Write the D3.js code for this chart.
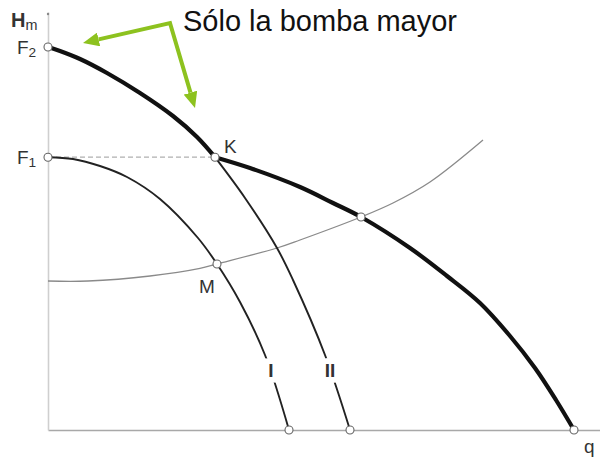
<!DOCTYPE html>
<html>
<head>
<meta charset="utf-8">
<script src="https://cdn.jsdelivr.net/npm/d3@7"></script>
<style>
  body { margin: 0; background: #fff; }
  svg { display: block; font-family: "Liberation Sans", Arial, sans-serif; }
</style>
</head>
<body>
<div id="chart"></div>
<script>
// pump curves, [q, Hm]
const curveI = [[0, 68.2], [5, 67.75], [10.4, 66], [15.8, 63.25], [22.4, 57.75], [30, 48], [33.8, 41.5],
    [38.4, 32], [43.4, 18.75], [48.2, 0]];
const curveII = [[0, 95.75], [2.4, 94.75], [6.4, 92.75], [11.8, 89.25], [18.4, 84.25], [25, 78.5], [29.8, 73.25],
    [33.4, 68.2], [39.4, 58], [45.8, 45.5], [49, 37.5], [55.4, 18.75], [60.4, 0]];
const combined = [[33.4, 68.2], [40.4, 65.5], [50.4, 60.75], [57, 56.75], [62.6, 53.25], [72.4, 45.5],
    [79.8, 38.5], [86.4, 31.75], [92.4, 23.5], [97.4, 15.5], [101.6, 7.5], [105.2, 0]];
const systemCurve = [[0, 37.25], [8, 37.25], [20.4, 38.5], [30.4, 40.4], [33.8, 41.5], [45.8, 45.5],
    [50.4, 47.5], [62.6, 53.25], [69, 56.75], [76.4, 62], [87, 72.5]];

const qK = 33.4;
const pointNames = ["F2", "F1", "K", "M", "P", "I0", "II0", "C0"];
const pointQ = [0, 0, 33.4, 33.8, 62.6, 48.2, 60.4, 105.2];
const pointH = [95.75, 68.2, 68.2, 41.5, 53.25, 0, 0, 0];

const curveLabels = ["I", "II"];
const curveLabelQ = [44.6, 56.4];
const curveLabelH = [13.25, 13.25];

const title = "Sólo la bomba mayor";
// arrows: from vertex to the two tips
const arrowVertex = [24.4, 101.75];
const arrowTips = [[7, 96.75], [29.4, 80.5]];

const width = 600, height = 457;

const svg = d3.select("#chart").append("svg")
    .attr("width", width)
    .attr("height", height);

const x = d3.scaleLinear().domain([0, 110.4]).range([48, 600]);
const y = d3.scaleLinear().domain([0, 104.5]).range([430, 12]);

// axes, no ticks
const xAxis = svg.append("g")
    .attr("transform", "translate(0," + y(0) + ")")
    .call(d3.axisBottom(x).tickValues([]).tickSizeOuter(0));
xAxis.select(".domain").attr("stroke", "#a8a8a8").attr("stroke-width", 1.6);

const yAxis = svg.append("g")
    .attr("transform", "translate(" + x(0) + ",0)")
    .call(d3.axisLeft(y).tickValues([]).tickSizeOuter(0));
yAxis.select(".domain").attr("stroke", "#cfcfcf").attr("stroke-width", 1.6);
svg.append("circle").attr("cx", x(0)).attr("cy", y(104)).attr("r", 1.2).attr("fill", "#888");

const line = d3.line()
    .x(d => x(d[0]))
    .y(d => y(d[1]))
    .curve(d3.curveCatmullRom.alpha(0.5));

// system curve
svg.append("path")
    .attr("d", line(systemCurve))
    .attr("fill", "none")
    .attr("stroke", "#8a8a8a")
    .attr("stroke-width", 1.3);

// dashed F1 - K
svg.append("line")
    .attr("x1", x(0)).attr("y1", y(68.2))
    .attr("x2", x(qK)).attr("y2", y(68.2))
    .attr("stroke", "#b0b0b0")
    .attr("stroke-width", 1.2)
    .attr("stroke-dasharray", "5,3");

// thin pump curves
[curveI, curveII.filter(d => d[0] >= qK)].forEach(c => {
    svg.append("path")
        .attr("d", line(c))
        .attr("fill", "none")
        .attr("stroke", "#222")
        .attr("stroke-width", 1.9);
});

// thick: larger pump alone, then both pumps
[curveII.filter(d => d[0] <= qK), combined].forEach(c => {
    svg.append("path")
        .attr("d", line(c))
        .attr("fill", "none")
        .attr("stroke", "#111")
        .attr("stroke-width", 4.2)
        .attr("stroke-linecap", "round");
});

// curve labels with a white halo that breaks the line
svg.selectAll(".clabel")
    .data(curveLabels)
    .enter()
    .append("text")
    .attr("class", "clabel")
    .attr("x", (d, i) => x(curveLabelQ[i]))
    .attr("y", (d, i) => y(curveLabelH[i]))
    .attr("text-anchor", "middle")
    .attr("font-size", 19)
    .attr("font-weight", "bold")
    .attr("fill", "#333")
    .attr("stroke", "#fff")
    .attr("stroke-width", 11)
    .attr("paint-order", "stroke")
    .text(d => d);

// points
svg.selectAll(".pt")
    .data(pointNames)
    .enter()
    .append("circle")
    .attr("class", "pt")
    .attr("cx", (d, i) => x(pointQ[i]))
    .attr("cy", (d, i) => y(pointH[i]))
    .attr("r", 4)
    .attr("fill", "#fff")
    .attr("stroke", "#666")
    .attr("stroke-width", 1.1);

// axis / point labels
function label(tx, ty, main, sub, size) {
    const t = svg.append("text")
        .attr("x", tx).attr("y", ty)
        .attr("font-size", size)
        .attr("fill", "#333")
        .text(main);
    if (sub) {
        t.append("tspan")
            .attr("font-size", size * 0.72)
            .attr("font-weight", "normal")
            .attr("dy", 3)
            .text(sub);
    }
    return t;
}
label(11, 27, "H", "m", 20).attr("font-weight", "bold");
label(17, 54, "F", "2", 19);
label(17, 164, "F", "1", 19);
label(x(qK) + 9, y(68.2) - 4, "K", null, 19);
label(x(33.8) - 18, y(41.5) + 29, "M", null, 19);
label(584, 453, "q", null, 19);

// annotation
svg.append("text")
    .attr("x", 183)
    .attr("y", 31)
    .attr("font-size", 29)
    .attr("fill", "#111")
    .text(title);

const green = "#8dc21f";
const headLen = 16;
svg.append("defs").append("marker")
    .attr("id", "head")
    .attr("viewBox", "0 0 16 14")
    .attr("refX", 0).attr("refY", 7)
    .attr("markerUnits", "userSpaceOnUse")
    .attr("markerWidth", 16).attr("markerHeight", 14)
    .attr("orient", "auto-start-reverse")
    .append("path")
    .attr("d", "M0,0L16,7L0,14Z")
    .attr("fill", green);

// shaft stops where the head starts
const vx = x(arrowVertex[0]), vy = y(arrowVertex[1]);
const ends = arrowTips.map(t => {
    const tx = x(t[0]), ty = y(t[1]);
    const len = Math.hypot(tx - vx, ty - vy);
    return [tx - (tx - vx) / len * headLen, ty - (ty - vy) / len * headLen];
});
svg.append("path")
    .attr("d", "M" + ends[0] + "L" + [vx, vy] + "L" + ends[1])
    .attr("fill", "none")
    .attr("stroke", green)
    .attr("stroke-width", 4)
    .attr("stroke-linejoin", "miter")
    .attr("marker-start", "url(#head)")
    .attr("marker-end", "url(#head)");
</script>
</body>
</html>
